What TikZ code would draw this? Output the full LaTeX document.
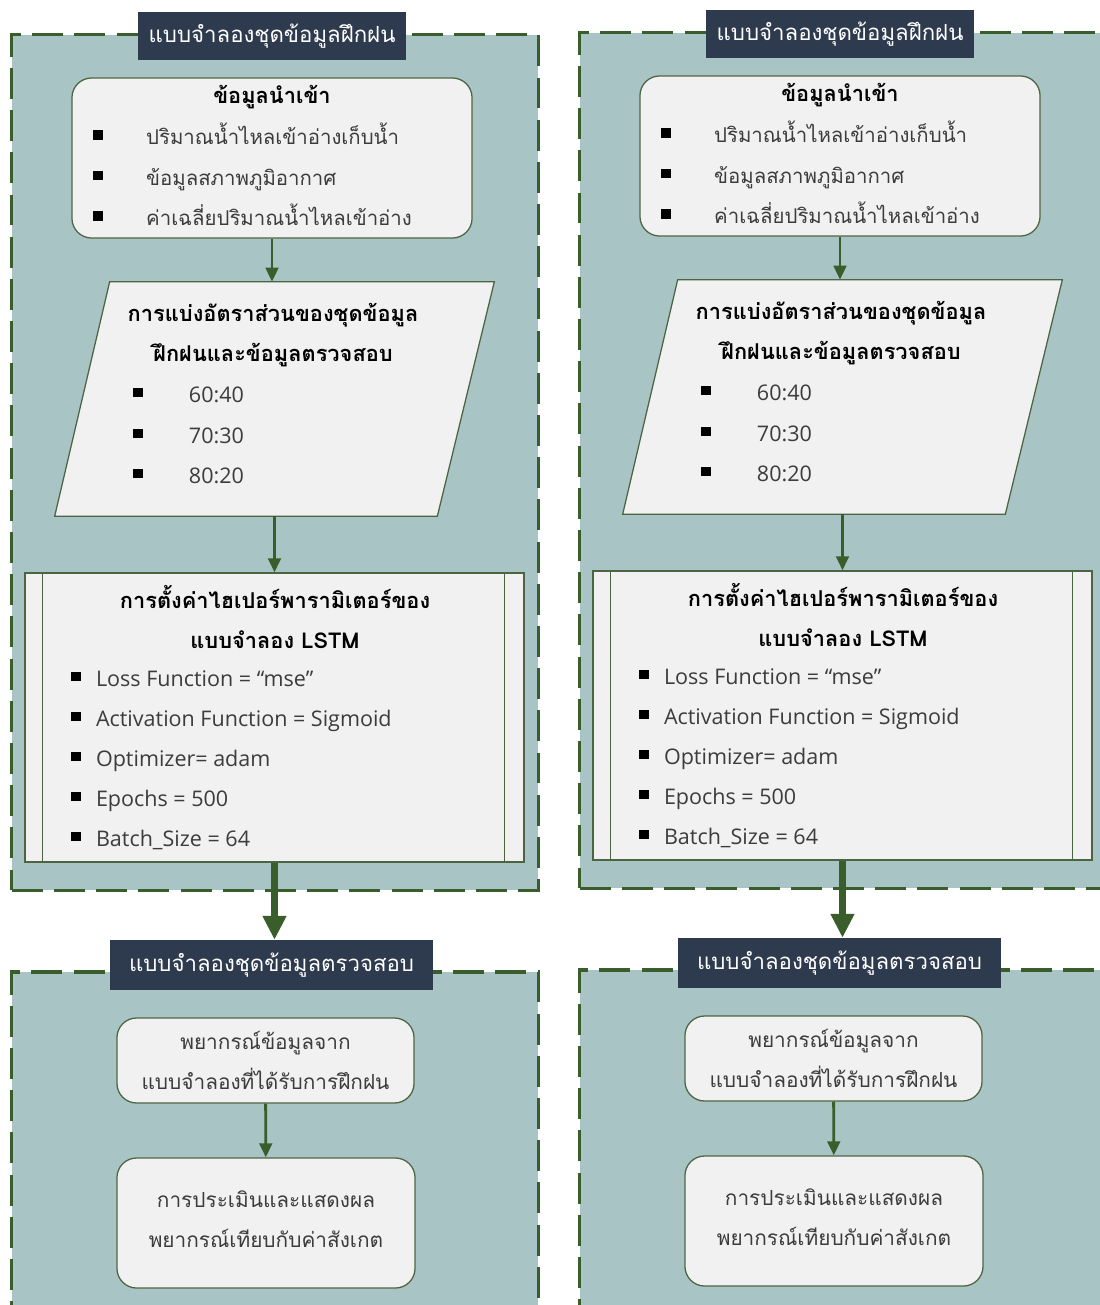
\documentclass[tikz,border=0pt]{standalone}
\usepackage{fontspec}
\setmainfont{Open Sans}
\newfontfamily\thaifont[Script=Thai]{Loma}
\usetikzlibrary{arrows.meta, positioning}
\definecolor{PanelTeal}{HTML}{A9C4C4}
\definecolor{BorderGreen}{HTML}{3A5E2B}
\definecolor{TabNavy}{HTML}{2E3A4D}
\definecolor{BoxGray}{HTML}{F1F1F1}
\definecolor{BoxEdge}{HTML}{4C6442}
\definecolor{BodyText}{HTML}{3C3C3C}
\newcommand{\blksq}{{\color{black}\raisebox{0.45ex}{\rule{6.6pt}{6.6pt}}}}

\begin{document}
\begin{tikzpicture}[
    x=0.025cm, y=-0.025cm,
    panel/.style={
        rectangle, draw=BorderGreen, fill=PanelTeal, line width=2.2pt,
        dash pattern=on 22pt off 8pt
    },
    tab/.style={
        rectangle, fill=TabNavy, text=white, inner sep=0pt,
        font=\thaifont\fontsize{15.8}{18}\selectfont
    },
    inbox/.style={
        rectangle, rounded corners=14pt, draw=BoxEdge, fill=BoxGray, line width=0.9pt
    },
    ratioline/.style={draw=BoxEdge, fill=BoxGray, line width=0.9pt},
    hyper/.style={
        rectangle, draw=BoxEdge, fill=BoxGray, line width=0.9pt
    },
    head/.style={font=\thaifont\bfseries\fontsize{15.5}{28.5}\selectfont, text=black, align=center},
    thaitxt/.style={font=\thaifont\fontsize{14.8}{28.5}\selectfont, text=BodyText, align=center},
    item/.style={anchor=base west, inner sep=0pt, font=\thaifont\fontsize{14.5}{18}\selectfont, text=BodyText},
    engitem/.style={anchor=base west, inner sep=0pt, font=\fontsize{15.3}{18}\selectfont, text=BodyText},
    arrow/.style={-{Triangle[length=10pt, width=9pt]}, line width=2pt, draw=BorderGreen},
    bigarrow/.style={-{Triangle[length=17pt, width=16pt]}, line width=5pt, draw=BorderGreen}
]

    \fill[white] (0,0) rectangle (1100,1305);
    \useasboundingbox (0,0) rectangle (1100,1305);
    \clip (0,0) rectangle (1100,1305);

    \foreach \c/\dx/\dy in {L/0/0, R/568/-2}{
    \begin{scope}[shift={(\dx,\dy)}]

    % Training panel
    \node[panel, minimum width=13.15cm, minimum height=21.375cm] (train\c) at (275,462.5) {};
    \node[tab, minimum width=6.7cm, minimum height=1.2cm] (traintab\c) at (272,36) {แบบจำลองชุดข้อมูลฝึกฝน};

    % Input data
    \node[inbox, minimum width=10cm, minimum height=4cm] (in\c) at (272,158) {};
    \node[head] (inhead\c) at (272,97) {ข้อมูลนำเข้า};
    \foreach \t [count=\i] in {ปริมาณน้ำไหลเข้าอ่างเก็บน้ำ, ข้อมูลสภาพภูมิอากาศ, ค่าเฉลี่ยปริมาณน้ำไหลเข้าอ่าง}
        \node[item] (initem\c\i) at (93,{104+40.5*\i}) {\blksq\hspace{31pt}\t};

    % Split ratio
    \node[minimum width=10.975cm, minimum height=5.85cm] (ratio\c) at (274.5,399) {};
    \draw[ratioline] ([xshift=1.375cm]ratio\c.north west) -- (ratio\c.north east)
        -- ([xshift=-1.425cm]ratio\c.south east) -- (ratio\c.south west) -- cycle;
    \node[head] (ratiohead\c) at (273,335) {การแบ่งอัตราส่วนของชุดข้อมูล\\ฝึกฝนและข้อมูลตรวจสอบ};
    \foreach \t [count=\i] in {60:40, 70:30, 80:20}
        \node[engitem] (ratioitem\c\i) at (133,{362+40.5*\i}) {\blksq\hspace{33pt}\t};

    % Hyperparameters
    \node[hyper, minimum width=12.475cm, minimum height=7.225cm] (hyper\c) at (274.5,717.5) {};
    \draw[BoxEdge, line width=0.9pt] ([xshift=0.45cm]hyper\c.north west) -- ([xshift=0.45cm]hyper\c.south west);
    \draw[BoxEdge, line width=0.9pt] ([xshift=-0.5cm]hyper\c.north east) -- ([xshift=-0.5cm]hyper\c.south east);
    \node[head] (hyperhead\c) at (275,617) {การตั้งค่าไฮเปอร์พารามิเตอร์ของ\\แบบจำลอง LSTM};
    \foreach \t [count=\i] in {Loss Function = “mse”, Activation Function = Sigmoid, Optimizer= adam, Epochs = 500, Batch\_Size = 64}
        \node[engitem] (hyperitem\c\i) at (71,{646+40*\i}) {\blksq\hspace{11pt}\t};

    % Test panel
    \node[panel, minimum width=13.15cm, minimum height=8.7cm] (test\c) at (275,1146) {};
    \node[tab, minimum width=8.075cm, minimum height=1.25cm] (testtab\c) at (271.5,965) {แบบจำลองชุดข้อมูลตรวจสอบ};
    \node[inbox, minimum width=7.425cm, minimum height=2.125cm, thaitxt] (predict\c) at (265.5,1060.5) {พยากรณ์ข้อมูลจาก\\แบบจำลองที่ได้รับการฝึกฝน};
    \node[inbox, minimum width=7.45cm, minimum height=3.25cm, thaitxt, text depth=6pt] (eval\c) at (266,1223) {การประเมินและแสดงผล\\พยากรณ์เทียบกับค่าสังเกต};

    % Links
    \draw[arrow] (in\c.south) -- (in\c.south |- ratio\c.north);
    \draw[arrow] (ratio\c.south) -- (ratio\c.south |- hyper\c.north);
    \draw[bigarrow] (hyper\c.south) -- (hyper\c.south |- testtab\c.north);
    \draw[arrow] (predict\c) -- (eval\c);

    \end{scope}
    }

\end{tikzpicture}
\end{document}
